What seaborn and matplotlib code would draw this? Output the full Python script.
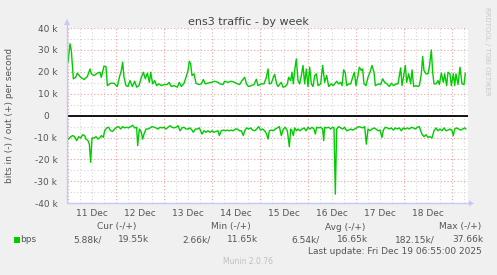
import numpy as np
import pandas as pd
import matplotlib
matplotlib.use("Agg")
import matplotlib.pyplot as plt
from matplotlib.patches import Rectangle, Polygon
from matplotlib.lines import Line2D
import seaborn as sns

# ---------------- data (hours since 11 Dec 00:00, values in kbit/s) ----------------
out_hours = [-0.5, 0.0, 1.0, 1.67, 2.67, 3.83, 4.67, 6.33, 8.0, 9.67, 11.0, 11.67, 13.0, 14.67, 16.0, 16.67,
             18.0, 19.0, 19.67, 21.33, 23.0, 24.67, 25.67, 26.67, 27.33, 28.0, 29.0, 30.0, 31.0, 32.17, 33.33,
             34.33, 35.5, 36.67, 37.67, 38.67, 39.67, 40.67, 41.33, 42.33, 43.33, 44.33, 45.5, 46.67, 48.0,
             49.67, 50.5, 51.67, 53.0, 54.67, 55.67, 56.67, 58.0, 59.0, 60.0, 60.67, 61.33, 62.0, 63.0, 64.0,
             65.33, 66.67, 67.67, 68.67, 70.0, 71.67, 73.33, 75.0, 76.0, 77.5, 78.33, 80.0, 81.67, 83.33,
             84.67, 85.83, 87.0, 88.33, 89.33, 90.33, 91.67, 93.0, 94.17, 95.0, 96.67, 98.0, 99.17, 100.0,
             100.67, 101.67, 102.67, 103.33, 104.33, 105.0, 106.0, 106.67, 107.5, 108.67, 109.67, 110.33,
             111.33, 112.0, 112.67, 113.33, 114.17, 115.0, 115.83, 116.67, 117.5, 118.33, 119.17, 120.0,
             120.83, 121.67, 122.5, 123.33, 124.17, 125.0, 126.33, 127.33, 128.33, 129.33, 130.33, 131.67,
             132.67, 133.33, 134.33, 135.33, 136.33, 137.0, 137.83, 138.67, 139.33, 140.33, 141.33, 142.33,
             143.17, 144.0, 145.0, 145.67, 146.67, 147.33, 148.0, 149.0, 150.0, 151.0, 152.0, 153.0, 153.67,
             155.33, 156.33, 157.33, 158.33, 159.5, 160.67, 161.67, 162.83, 164.0, 165.0, 165.67, 166.33,
             167.0, 168.0, 168.67, 169.33, 170.33, 171.33, 172.0, 172.83, 174.0, 175.0, 175.67, 176.67,
             177.33, 178.0, 179.0, 180.0, 180.67, 181.67, 182.33, 183.0, 184.0, 185.0, 185.67, 186.67,
             187.67, 188.33, 189.33, 190.0, 191.0, 191.67, 192.67, 193.33, 194.0, 195.0, 196.0, 197.0,
             198.0, 198.67]
out_kbps = [26.5, 24.4, 32.8, 29.7, 16.8, 17.5, 19.4, 17.5, 16.5, 17.8, 21.3, 19.1, 18.3, 19.4, 19.8, 17.5,
            22.6, 22.4, 13.7, 14.8, 14.8, 13.3, 17.5, 20.6, 24.4, 17.5, 13.7, 13.3, 16.0, 13.3, 15.7,
            13.0, 13.7, 17.5, 19.8, 16.8, 19.4, 15.2, 19.8, 14.5, 16.0, 13.7, 14.5, 13.7, 14.2,
            14.2, 15.2, 13.3, 13.7, 13.0, 15.2, 13.3, 14.8, 17.5, 20.6, 24.8, 23.6, 18.3, 19.1, 14.8,
            14.2, 14.5, 16.5, 14.5, 14.9, 15.2, 15.7, 15.2, 14.5, 14.2, 15.7, 15.2, 15.7, 15.2,
            14.5, 14.2, 16.0, 17.5, 14.2, 13.3, 13.7, 14.2, 16.6, 13.7, 14.5, 14.5, 17.5, 21.3,
            14.5, 14.8, 17.5, 18.8, 14.5, 13.3, 14.5, 15.2, 13.0, 13.3, 14.5, 17.5,
            16.0, 19.8, 14.5, 20.6, 25.9, 16.0, 14.5, 18.3, 22.9, 14.5, 21.3, 13.3,
            22.1, 14.5, 13.3, 18.3, 19.1, 13.7, 14.5, 22.9, 15.2, 18.3, 13.3, 14.5,
            13.7, 14.5, 15.7, 14.5, 15.2, 13.7, 20.9, 19.4, 13.7, 14.5, 14.5, 17.5,
            19.8, 13.7, 18.3, 22.1, 20.6, 21.3, 14.5, 13.7, 17.5, 19.8, 22.9, 19.8, 13.7,
            14.5, 14.2, 16.8, 15.2, 14.5, 13.3, 14.8, 13.7, 14.5, 14.5, 18.3, 21.8,
            13.7, 19.1, 22.9, 15.2, 19.1, 14.5, 20.9, 13.3, 13.7, 13.3, 13.7, 19.1,
            27.0, 20.6, 19.1, 19.1, 22.1, 30.0, 19.8, 14.5, 14.5, 16.0, 14.2, 19.4,
            15.2, 19.1, 13.7, 19.8, 19.1, 13.7, 19.1, 13.7, 19.1, 14.2, 22.1, 14.5,
            14.2, 19.4]

in_hours = [-0.67, 0.33, 1.33, 2.33, 3.33, 4.33, 5.33, 6.33, 7.33, 8.33, 9.0, 10.0, 10.67, 11.33, 12.0, 13.0,
            14.0, 15.0, 16.0, 16.67, 17.67, 18.33, 19.33, 20.33, 21.33, 22.33, 23.33, 24.33, 25.33, 26.33,
            27.33, 28.33, 29.33, 30.33, 31.33, 32.33, 33.33, 34.33, 34.83, 35.67, 36.67, 37.33, 38.0, 39.0,
            40.0, 41.0, 42.0, 43.0, 44.0, 45.0, 46.0, 47.0, 48.0, 49.0, 50.0, 51.0, 52.0, 53.0, 54.0, 55.0,
            56.0, 57.0, 58.0, 59.0, 60.0, 61.0, 62.0, 62.67, 63.67, 64.67, 65.67, 67.0, 68.0, 69.0, 70.0,
            71.0, 72.0, 73.0, 74.0, 75.0, 75.67, 76.67, 77.67, 78.67, 79.67, 80.67, 81.67, 82.67, 83.67,
            84.67, 85.67, 86.67, 87.67, 88.33, 89.33, 90.33, 91.33, 92.33, 93.33, 94.33, 95.33, 96.33,
            97.33, 98.33, 99.33, 100.0, 100.67, 101.67, 102.67, 103.67, 104.67, 105.67, 106.67, 107.67,
            108.67, 109.67, 110.67, 111.33, 112.0, 112.67, 113.33, 114.33, 115.0, 116.0, 117.0, 118.0,
            119.0, 120.0, 121.0, 122.0, 123.0, 123.67, 124.33, 125.33, 126.33, 127.33, 127.83, 128.33,
            129.33, 130.33, 131.33, 132.33, 133.0, 133.67, 134.33, 135.33, 136.33, 137.33, 138.33, 139.33,
            140.33, 141.33, 142.33, 143.33, 144.33, 145.33, 146.33, 147.33, 148.33, 149.17, 150.0, 151.0,
            152.0, 153.0, 154.0, 155.0, 156.0, 157.0, 157.67, 158.67, 159.67, 160.67, 161.67, 162.67,
            163.67, 164.67, 165.67, 166.67, 167.67, 168.67, 169.67, 170.67, 171.67, 172.67, 173.67,
            174.67, 175.67, 176.33, 177.0, 178.0, 179.0, 180.0, 181.0, 182.0, 183.0, 184.0, 185.0, 186.0,
            187.0, 188.0, 189.0, 190.0, 191.0, 192.0, 192.67, 193.33, 194.33, 195.33, 196.33, 197.33,
            198.33, 199.0]
in_kbps = [-9.9, -10.7, -9.6, -9.1, -9.6, -11.4, -9.6, -10.2, -8.7, -9.1, -10.7, -11.4, -13.0, -21.3, -10.2, -10.2,
           -9.6, -10.7, -9.9, -9.1, -9.9, -6.9, -5.6, -5.3, -6.9, -7.2, -6.1, -5.3, -5.0, -6.1,
           -5.0, -5.6, -5.3, -5.6, -5.0, -4.4, -5.6, -5.3, -13.7, -6.1, -7.6, -10.7, -8.4, -6.1,
           -6.1, -5.6, -5.0, -5.3, -5.6, -6.1, -5.3, -5.6, -5.3, -6.1, -5.3, -4.6, -5.3, -5.6, -5.3, -4.6,
           -6.9, -5.6, -5.3, -6.1, -6.1, -5.6, -6.6, -7.6, -6.1, -6.1, -5.6, -8.4, -6.9, -7.6, -6.9,
           -7.6, -6.9, -7.6, -7.2, -6.9, -9.1, -6.9, -6.6, -6.9, -6.6, -6.9, -6.6, -6.9, -6.1,
           -6.1, -6.9, -6.9, -9.1, -6.9, -5.6, -6.1, -5.6, -6.6, -6.9, -6.1, -5.0, -6.6,
           -6.1, -6.9, -8.4, -10.7, -6.9, -6.6, -6.9, -6.1, -5.6, -5.0, -9.1, -6.1,
           -5.3, -6.9, -14.2, -6.1, -6.9, -9.1, -5.6, -6.9, -6.1, -6.9, -6.1, -5.6,
           -6.9, -5.3, -6.1, -5.3, -6.1, -8.4, -5.3, -5.6, -5.3, -6.1, -11.4, -5.3,
           -5.6, -5.3, -6.1, -5.3, -5.6, -35.8, -6.1, -5.0, -5.6, -6.1, -5.3, -6.9,
           -6.6, -6.1, -6.6, -6.1, -5.6, -5.0, -5.3, -5.6, -5.0, -13.0, -6.1, -6.9,
           -6.1, -5.6, -6.1, -6.9, -6.6, -9.9, -6.6, -5.3, -5.6, -6.1, -5.6, -6.6,
           -5.6, -6.1, -5.6, -6.9, -5.6, -6.1, -5.6, -6.1, -5.3, -5.6, -6.1,
           -5.3, -5.0, -6.9, -8.4, -9.6, -8.7, -9.9, -9.6, -10.2, -6.9, -5.6, -6.9, -6.1,
           -6.9, -5.6, -6.9, -6.6, -6.1, -6.9, -9.1, -6.1, -5.6, -6.1, -6.6, -6.1,
           -5.6, -6.1]

day_labels = ["11 Dec", "12 Dec", "13 Dec", "14 Dec", "15 Dec", "16 Dec", "17 Dec", "18 Dec"]
y_tick_values = [-40, -30, -20, -10, 0, 10, 20, 30, 40]
y_tick_labels = ["-40 k", "-30 k", "-20 k", "-10 k", "0\u2007\u2009", "10 k", "20 k", "30 k", "40 k"]

legend_headers = ["Cur (-/+)", "Min (-/+)", "Avg (-/+)", "Max (-/+)"]
legend_in = ["5.88k/", "2.66k/", "6.54k/", "182.15k/"]
legend_out = ["19.55k", "11.65k", "16.65k", "37.66k"]
series_name = "bps"
title = "ens3 traffic - by week"
ylabel = "bits in (-) / out (+) per second"
last_update = "Last update: Fri Dec 19 06:55:00 2025"
footer = "Munin 2.0.76"
side_text = "RRDTOOL / TOBI OETIKER"

# ---------------- style ----------------
sns.set_style("white")
plt.rcParams["font.family"] = ["DejaVu Sans"]

W, H = 497, 275
BG = "#F0F0F0"
GREEN = "#00CC00"
TXT = "#555555"
fig = plt.figure(figsize=(W / 100, H / 100), dpi=100, facecolor=BG)

x0, x1 = 67, 468
ytop, ybot = 28, 203.3
ax = fig.add_axes([x0 / W, (H - ybot) / H, (x1 - x0) / W, (ybot - ytop) / H])
ax.set_facecolor("white")
for s in ax.spines.values():
    s.set_visible(False)

df_out = pd.DataFrame({"hour": out_hours, "kbps": out_kbps})
df_in = pd.DataFrame({"hour": in_hours, "kbps": in_kbps})
sns.lineplot(data=df_out, x="hour", y="kbps", ax=ax, color=GREEN, lw=1.0, estimator=None, sort=False, zorder=5)
sns.lineplot(data=df_in, x="hour", y="kbps", ax=ax, color=GREEN, lw=1.0, estimator=None, sort=False, zorder=5)
ax.axhline(0, color="black", lw=1.3, zorder=6)

ax.set_xlim(-0.5, 200)
ax.set_ylim(-40, 40)

n_days = len(day_labels) + 1
day_starts = [24 * d for d in range(n_days)]
six_hours = [6 * k for k in range(int(200 // 6) + 1) if (6 * k) % 24 != 0]
ax.set_xticks(day_starts)
ax.set_xticklabels([""] * len(day_starts))
ax.set_xticks(six_hours, minor=True)
ax.set_xticklabels([day_labels[(h // 24)] if (h % 24 == 12 and h // 24 < len(day_labels)) else "" for h in six_hours],
                   minor=True)
ax.set_yticks(y_tick_values)
ax.set_yticklabels(y_tick_labels)
ax.set_yticks([v + 5 for v in y_tick_values[:-1]], minor=True)

ax.tick_params(axis="x", which="major", length=3, width=0.8, color="#FF8080", direction="out", pad=2)
ax.tick_params(axis="x", which="minor", length=0, pad=4, labelsize=6.5, labelcolor=TXT)
ax.tick_params(axis="y", which="major", length=2, width=0.8, color="#AAAAAA", direction="out", pad=5,
               labelsize=6.5, labelcolor=TXT)
ax.tick_params(axis="y", which="minor", length=0)

ax.grid(True, which="major", color="#F0A0A0", lw=0.8, linestyle=(0, (1, 2)))
ax.grid(True, which="minor", color="#D4D4D4", lw=0.8, linestyle=(0, (1, 2)))
ax.set_axisbelow(True)
ax.set_xlabel("")
ax.set_ylabel("")

# axis lines with arrows (figure pixel coords)
AXC = "#C8C8F8"
def px(x, y):
    return (x / W, 1 - y / H)
fig.add_artist(Line2D([x0 / W, 470 / W], [1 - ybot / H, 1 - ybot / H], color=AXC, lw=1.0))
fig.add_artist(Line2D([x0 / W, x0 / W], [1 - ybot / H, 1 - 22 / H], color=AXC, lw=1.0))
fig.add_artist(Polygon([px(469, ybot - 3), px(474, ybot), px(469, ybot + 3)], closed=True, color=AXC, lw=0))
fig.add_artist(Polygon([px(x0 - 3, 25), px(x0, 19), px(x0 + 3, 25)], closed=True, color=AXC, lw=0))

# texts
fig.text(248 / W, 1 - 22 / H, title, ha="center", va="center", fontsize=8, color="#444444")
fig.text(10 / W, 1 - 115 / H, ylabel, ha="center", va="center", rotation=90, fontsize=6.5, color=TXT)
fig.text(487 / W, 1 - 51 / H, side_text, ha="center", va="center", rotation=270, fontsize=5, color="#C8C8C8")

header_x = [117, 231, 345, 460]
in_right = [102, 211, 320, 435]
out_right = [149, 258, 368, 483]
for hx, lab in zip(header_x, legend_headers):
    fig.text(hx / W, 1 - 227 / H, lab, ha="center", va="center", fontsize=6.5, color=TXT)
for xr, lab in zip(in_right, legend_in):
    fig.text(xr / W, 1 - 240 / H, lab, ha="right", va="center", fontsize=6.5, color=TXT)
for xr, lab in zip(out_right, legend_out):
    fig.text(xr / W, 1 - 240 / H, lab, ha="right", va="center", fontsize=6.5, color=TXT)
fig.add_artist(Rectangle(px(14, 242.5), 5.5 / W, 5.5 / H, color=GREEN, lw=0))
fig.text(20 / W, 1 - 240 / H, series_name, ha="left", va="center", fontsize=6.5, color=TXT)
fig.text(482 / W, 1 - 251.5 / H, last_update, ha="right", va="center", fontsize=6.5, color=TXT)
fig.text(248 / W, 1 - 262 / H, footer, ha="center", va="center", fontsize=5.5, color="#C0C0C0")

fig.savefig("out.png", dpi=100, facecolor=BG)
